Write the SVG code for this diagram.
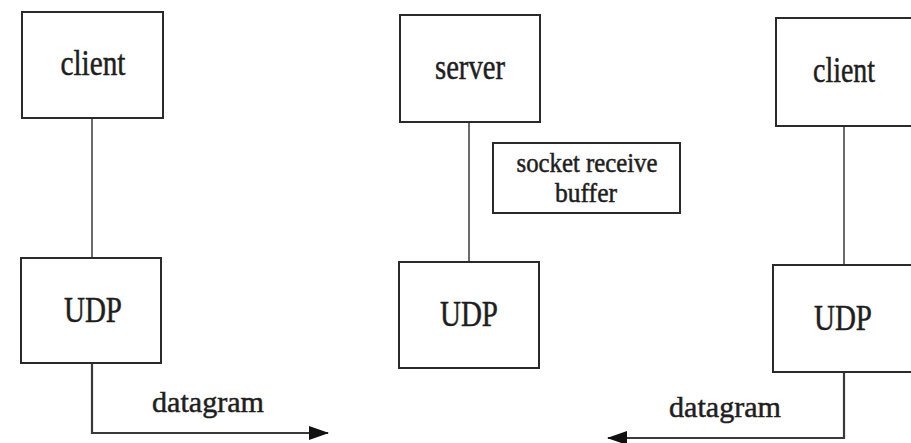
<svg xmlns="http://www.w3.org/2000/svg" width="911" height="443" viewBox="0 0 911 443">
<style>
.box{fill:#fff;stroke:#2a2a2a;stroke-width:2}
.ln{fill:none;stroke:#3a3a3a;stroke-width:1.5}
.t{font-family:"Liberation Serif",serif;fill:#1e1e1e;stroke:#1e1e1e;stroke-width:0.5;text-anchor:middle}
.big{font-size:36px}
.mid{font-size:30px}
.sm{font-size:27px}
</style>
<defs>
<marker id="ah" viewBox="0 0 20 14" refX="19" refY="7" markerWidth="20" markerHeight="14" markerUnits="userSpaceOnUse" orient="auto">
<path d="M0,0 L20,7 L0,14 z" fill="#111"/>
</marker>
</defs>
<g id="connectors">
<line class="ln" x1="92" y1="118" x2="92" y2="258"/>
<line class="ln" x1="469" y1="122" x2="469" y2="262"/>
<line class="ln" x1="844" y1="126" x2="844" y2="265"/>
<polyline class="ln" points="92,363 92,433 328,433" marker-end="url(#ah)" style="stroke-width:2.2"/>
<polyline class="ln" points="844,372 844,438 608,438" marker-end="url(#ah)" style="stroke-width:2.2"/>
<text class="t mid" x="208" y="412" textLength="112" lengthAdjust="spacingAndGlyphs">datagram</text>
<text class="t mid" x="725" y="417" textLength="112" lengthAdjust="spacingAndGlyphs">datagram</text>
</g>
<g id="client1">
<rect class="box" x="22" y="12" width="141" height="106"/>
<text class="t big" x="93" y="75" textLength="65" lengthAdjust="spacingAndGlyphs">client</text>
</g>
<g id="udp1">
<rect class="box" x="21" y="258" width="140" height="105"/>
<text class="t big" x="93" y="322" textLength="58" lengthAdjust="spacingAndGlyphs">UDP</text>
</g>
<g id="server">
<rect class="box" x="400" y="15" width="140" height="107"/>
<text class="t big" x="470" y="79" textLength="70" lengthAdjust="spacingAndGlyphs">server</text>
</g>
<g id="buffer">
<rect class="box" x="493" y="143" width="187" height="70"/>
<text class="t sm" x="587" y="172" textLength="141" lengthAdjust="spacingAndGlyphs">socket receive</text>
<text class="t sm" x="586" y="202" textLength="62" lengthAdjust="spacingAndGlyphs">buffer</text>
</g>
<g id="udp2">
<rect class="box" x="399" y="262" width="140" height="106"/>
<text class="t big" x="469" y="326" textLength="58" lengthAdjust="spacingAndGlyphs">UDP</text>
</g>
<g id="client2">
<rect class="box" x="776" y="18" width="145" height="108"/>
<text class="t big" x="844" y="82" textLength="62" lengthAdjust="spacingAndGlyphs">client</text>
</g>
<g id="udp3">
<rect class="box" x="773" y="265" width="148" height="107"/>
<text class="t big" x="843" y="330" textLength="58" lengthAdjust="spacingAndGlyphs">UDP</text>
</g>
</svg>
